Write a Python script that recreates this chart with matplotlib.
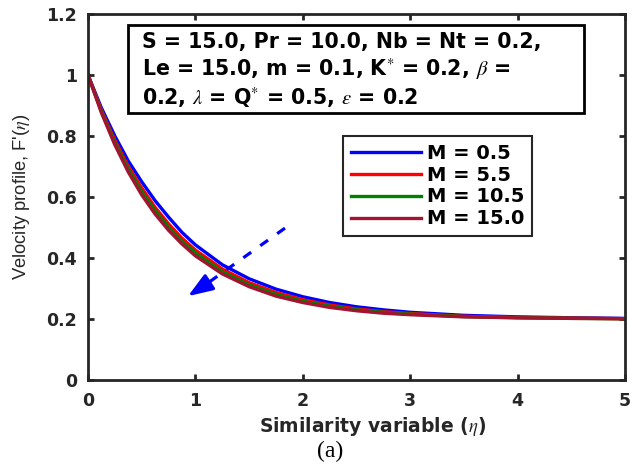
import numpy as np
import matplotlib
matplotlib.use("Agg")
import matplotlib.pyplot as plt
from matplotlib.patches import Rectangle

# data
eta = [0, 0.125, 0.25, 0.375, 0.5, 0.625, 0.75, 0.875, 1.0, 1.25, 1.5, 1.75, 2.0, 2.25, 2.5, 2.75, 3.0, 3.5, 4.0, 4.5, 5.0]
f_m05 = [1.0, 0.892, 0.800, 0.718, 0.650, 0.588, 0.534, 0.484, 0.443, 0.378, 0.332, 0.298, 0.273, 0.254, 0.240, 0.230, 0.222, 0.212, 0.207, 0.204, 0.202]
f_m55 = [1.0, 0.884, 0.786, 0.700, 0.630, 0.566, 0.512, 0.465, 0.426, 0.364, 0.319, 0.287, 0.263, 0.246, 0.233, 0.224, 0.218, 0.209, 0.205, 0.203, 0.201]
f_m105 = [1.0, 0.880, 0.778, 0.691, 0.618, 0.555, 0.501, 0.455, 0.417, 0.355, 0.312, 0.281, 0.258, 0.242, 0.230, 0.222, 0.216, 0.208, 0.204, 0.202, 0.201]
f_m150 = [1.0, 0.876, 0.771, 0.682, 0.607, 0.544, 0.491, 0.446, 0.407, 0.348, 0.306, 0.275, 0.254, 0.238, 0.227, 0.219, 0.214, 0.207, 0.204, 0.202, 0.201]
series = [f_m05, f_m55, f_m105, f_m150]
labels = ["M = 0.5", "M = 5.5", "M = 10.5", "M = 15.0"]
colors = ["#0000ff", "#ff0000", "#008000", "#a2142f"]
xticks = [0, 1, 2, 3, 4, 5]
yticks = [0, 0.2, 0.4, 0.6, 0.8, 1.0, 1.2]
ytick_labels = ["0", "0.2", "0.4", "0.6", "0.8", "1", "1.2"]

plt.rcParams["font.family"] = ["DejaVu Sans"]
plt.rcParams["mathtext.fontset"] = "stix"

dark = "#262626"
fig = plt.figure(figsize=(6.32, 4.66), dpi=100)
ax = fig.add_axes([88/632, 1 - 380/466, 537/632, 366/466])

for y, lab, c in zip(series, labels, colors):
    ax.plot(eta, y, color=c, lw=2.4, label=lab)

ax.set_xlim(0, 5)
ax.set_ylim(0, 1.2)
ax.set_xticks(xticks)
ax.set_yticks(yticks)
ax.set_yticklabels(ytick_labels)
ax.tick_params(direction="in", top=True, right=True, width=2, length=4,
               labelsize=12.5, color=dark, labelcolor=dark)
ax.tick_params(axis="x", pad=9)
ax.tick_params(axis="y", pad=8)
for t in ax.get_xticklabels() + ax.get_yticklabels():
    t.set_fontweight("bold")
for s in ax.spines.values():
    s.set_linewidth(2)
    s.set_color(dark)

ax.set_xlabel(r"Similarity variable ($\eta$)", fontsize=13.5, fontweight="bold", color=dark)
ax.xaxis.set_label_coords((373 - 88) / 537, -0.095)
ax.set_ylabel(r"Velocity profile, F'($\eta$)", fontsize=13.2, color=dark,
              family="Liberation Sans")
ax.yaxis.set_label_coords(-0.105, 0.5)

# parameter box
ax.add_patch(Rectangle((0.0745, 0.7295), 0.849, 0.2405, transform=ax.transAxes,
                       facecolor="white", edgecolor="black", lw=2, zorder=5))
ax.text(0.1006, 0.950,
        "S = 15.0, Pr = 10.0, Nb = Nt = 0.2,\n"
        "Le = 15.0, m = 0.1, K$^{*}$ = 0.2, $\\beta$ =\n"
        "0.2, $\\lambda$ = Q$^{*}$ = 0.5, $\\epsilon$ = 0.2",
        transform=ax.transAxes, ha="left", va="top", fontsize=14.8, fontweight="bold",
        linespacing=1.2, zorder=6)

leg = ax.legend(loc="upper left", bbox_to_anchor=(0.475, 0.667), borderaxespad=0,
                fancybox=False, edgecolor=dark, handlelength=3.6, handletextpad=0.3,
                prop={"weight": "bold", "size": 14}, labelspacing=0.15,
                borderpad=0.4, framealpha=1)
leg.get_frame().set_linewidth(1.5)

# dashed arrow
ax.plot([1.834, 1.12], [0.498, 0.319], color="#0000ff", lw=2.3, ls=(0, (3, 3.5)))
ax.annotate("", xy=(0.931, 0.275), xytext=(1.14, 0.323),
            arrowprops=dict(arrowstyle="-|>,head_length=1.5,head_width=0.55",
                            color="#0000ff", lw=2.3, shrinkA=0, shrinkB=0))

fig.text(330/632, 1 - 451/466, "(a)", ha="center", va="center", fontsize=17,
         family="Liberation Serif")

fig.savefig("out.png", dpi=100)
